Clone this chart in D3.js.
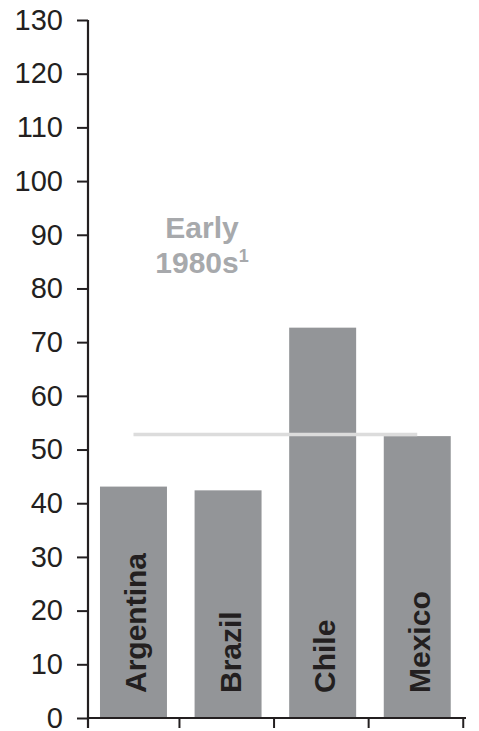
<!DOCTYPE html>
<html>
<head>
<meta charset="utf-8">
<script src="https://cdn.jsdelivr.net/npm/d3@7"></script>
<style>
  html, body { margin: 0; padding: 0; background: #fff; }
  svg { display: block; }
</style>
</head>
<body>
<script>
// Chart data
const categories = ["Argentina", "Brazil", "Chile", "Mexico"];
const values = [43.1, 42.4, 72.7, 52.5];
const averageValue = 52.8;
const yTicks = [0, 10, 20, 30, 40, 50, 60, 70, 80, 90, 100, 110, 120, 130];
const noteLines = ["Early", "1980s"];
const noteSup = "1";

const W = 479, H = 731;
const ink = "#231f20";
const barFill = "#939598";

const svg = d3.select("body").append("svg")
  .attr("width", W).attr("height", H);

const y = d3.scaleLinear().domain([0, 130]).range([718, 20]);
const x = d3.scaleBand().domain(categories).range([88, 466])
  .paddingInner(0.292).paddingOuter(0.144).align(0.44);

// Bars
svg.append("g").selectAll("rect")
  .data(categories)
  .join("rect")
  .attr("x", d => x(d))
  .attr("y", (d, i) => y(values[i]))
  .attr("width", x.bandwidth())
  .attr("height", (d, i) => y(0) - y(values[i]))
  .attr("fill", barFill);

// Category labels, rotated inside the bars
svg.append("g").selectAll("text")
  .data(categories)
  .join("text")
  .attr("transform", d => `translate(${x(d) + x.bandwidth() / 2 + 12.5},${y(0) - 25}) rotate(-90)`)
  .attr("font-family", "Liberation Sans, Arial, sans-serif")
  .attr("font-weight", "bold")
  .attr("font-size", 30)
  .attr("fill", ink)
  .text(d => d);

// Average reference line from first to last bar centre
svg.append("line")
  .attr("x1", x(categories[0]) + x.bandwidth() / 2)
  .attr("x2", x(categories[categories.length - 1]) + x.bandwidth() / 2)
  .attr("y1", y(averageValue)).attr("y2", y(averageValue))
  .attr("stroke", "#dcdcdc")
  .attr("stroke-width", 3.5);

// Y axis
const yAxis = d3.axisLeft(y).tickValues(yTicks).tickSize(11).tickPadding(14).tickSizeOuter(0);
const gy = svg.append("g").attr("transform", "translate(88,0)").call(yAxis);
gy.select(".domain").remove();
gy.selectAll(".tick line").attr("stroke", ink).attr("stroke-width", 2);
gy.selectAll(".tick text")
  .attr("font-family", "Liberation Sans, Arial, sans-serif")
  .attr("font-size", 29)
  .attr("fill", ink);
svg.append("line")
  .attr("x1", 88).attr("x2", 88)
  .attr("y1", y(130)).attr("y2", y(0) + 10)
  .attr("stroke", ink).attr("stroke-width", 2.2);

// X axis baseline with separators between categories
svg.append("line")
  .attr("x1", 87).attr("x2", 466)
  .attr("y1", y(0)).attr("y2", y(0))
  .attr("stroke", ink).attr("stroke-width", 2.2);
svg.append("g").selectAll("line")
  .data(categories)
  .join("line")
  .attr("x1", d => x(d) + x.bandwidth() + 12.5)
  .attr("x2", d => x(d) + x.bandwidth() + 12.5)
  .attr("y1", y(0)).attr("y2", y(0) + 10)
  .attr("stroke", ink).attr("stroke-width", 2);

// Period annotation
const note = svg.append("text")
  .attr("font-family", "Liberation Sans, Arial, sans-serif")
  .attr("font-weight", "bold")
  .attr("font-size", 30)
  .attr("fill", "#a7a9ac")
  .attr("text-anchor", "middle");
note.append("tspan").attr("x", 202).attr("y", 238).text(noteLines[0]);
const l2 = note.append("tspan").attr("x", 202).attr("y", 273).text(noteLines[1]);
note.append("tspan").attr("font-size", 18).attr("dy", -11).text(noteSup);
</script>
</body>
</html>
